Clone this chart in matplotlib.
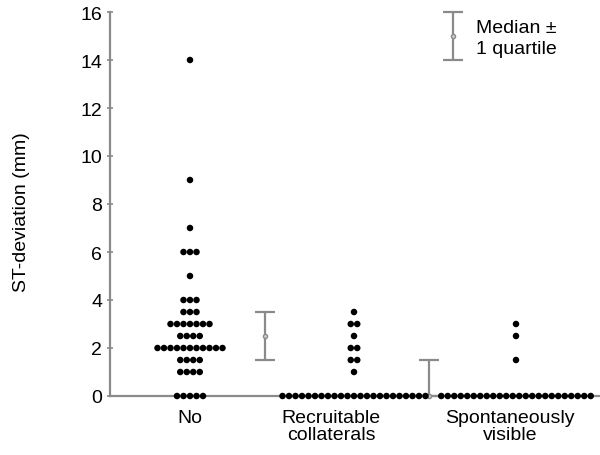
import matplotlib
matplotlib.use("Agg")
import matplotlib.pyplot as plt
import numpy as np

plt.rcParams['font.family'] = ['Liberation Sans', 'DejaVu Sans']

categories = ["No", "Recruitable\ncollaterals", "Spontaneously\nvisible"]

no_levels = [14, 9, 7, 6, 5, 4, 3.5, 3, 2.5, 2, 1.5, 1, 0]
no_counts = [1, 1, 1, 3, 1, 3, 3, 7, 4, 11, 4, 4, 5]
rec_levels = [3.5, 3, 2.5, 2, 1.5, 1, 0]
rec_counts = [1, 2, 1, 2, 2, 1, 23]
spo_levels = [3, 2.5, 1.5, 0]
spo_counts = [1, 1, 1, 24]

medians = [2.5, 0, 0]
q1 = [1.5, 0, 0]
q3 = [3.5, 1.5, 0]

yticks = list(range(0, 17, 2))

groups = [(no_levels, no_counts), (rec_levels, rec_counts), (spo_levels, spo_counts)]
centers = [190, 354, 516]     # layout positions (pixel-like x units)
label_x = [190, 331, 510]
err_offset = 75
spacing = 6.5
grey = '#8a8a8a'
FS = 14

fig = plt.figure(figsize=(6, 4.56), dpi=100)
W, H = 600, 456
ax = fig.add_axes([110 / W, (H - 397) / H, 490 / W, (397 - 13) / H])
ax.set_xlim(110, 600)
ax.set_ylim(0, 16)

for (levels, counts), c in zip(groups, centers):
    xs, ys = [], []
    for v, n in zip(levels, counts):
        offs = (np.arange(n) - (n - 1) / 2) * spacing
        xs.extend(c + offs)
        ys.extend([v] * n)
    ax.scatter(xs, ys, s=22, color='black', edgecolors='none', zorder=5, clip_on=False)

for c, m, lo, hi in zip(centers, medians, q1, q3):
    if hi - lo <= 0:
        continue
    ax.errorbar([c + err_offset], [m], yerr=[[m - lo], [hi - m]], fmt='o', ms=3,
                mfc='#cfcfcf', mec=grey, color=grey, ecolor=grey, elinewidth=1.6,
                capsize=7.5, capthick=1.6, zorder=3, clip_on=False)

# legend symbol
ax.errorbar([453], [15], yerr=[[1], [1]], fmt='o', ms=3, mfc='#cfcfcf', mec=grey,
            color=grey, ecolor=grey, elinewidth=1.6, capsize=7.5, capthick=1.6,
            clip_on=False)
ax.text(476, 15.35, "Median \u00b1", fontsize=FS, va='center', ha='left')
ax.text(476, 14.5, "1 quartile", fontsize=FS, va='center', ha='left')

for sp in ['top', 'right']:
    ax.spines[sp].set_visible(False)
for sp in ['left', 'bottom']:
    ax.spines[sp].set_color(grey)
    ax.spines[sp].set_linewidth(1.6)

ax.set_yticks(yticks)
ax.set_yticklabels([str(t) for t in yticks], fontsize=FS)
ax.tick_params(axis='y', direction='inout', length=5, width=1.2, color=grey, pad=3)
ax.set_xticks([])
for lx, lab in zip(label_x, categories):
    ax.text(lx, -0.55, lab, ha='center', va='top', fontsize=FS, linespacing=0.95)

ax.set_ylabel("ST-deviation (mm)", fontsize=FS)
ax.yaxis.set_label_coords(-(110 - 30) / 490, (397 - 212) / 384)

fig.savefig("out.png", dpi=100)
